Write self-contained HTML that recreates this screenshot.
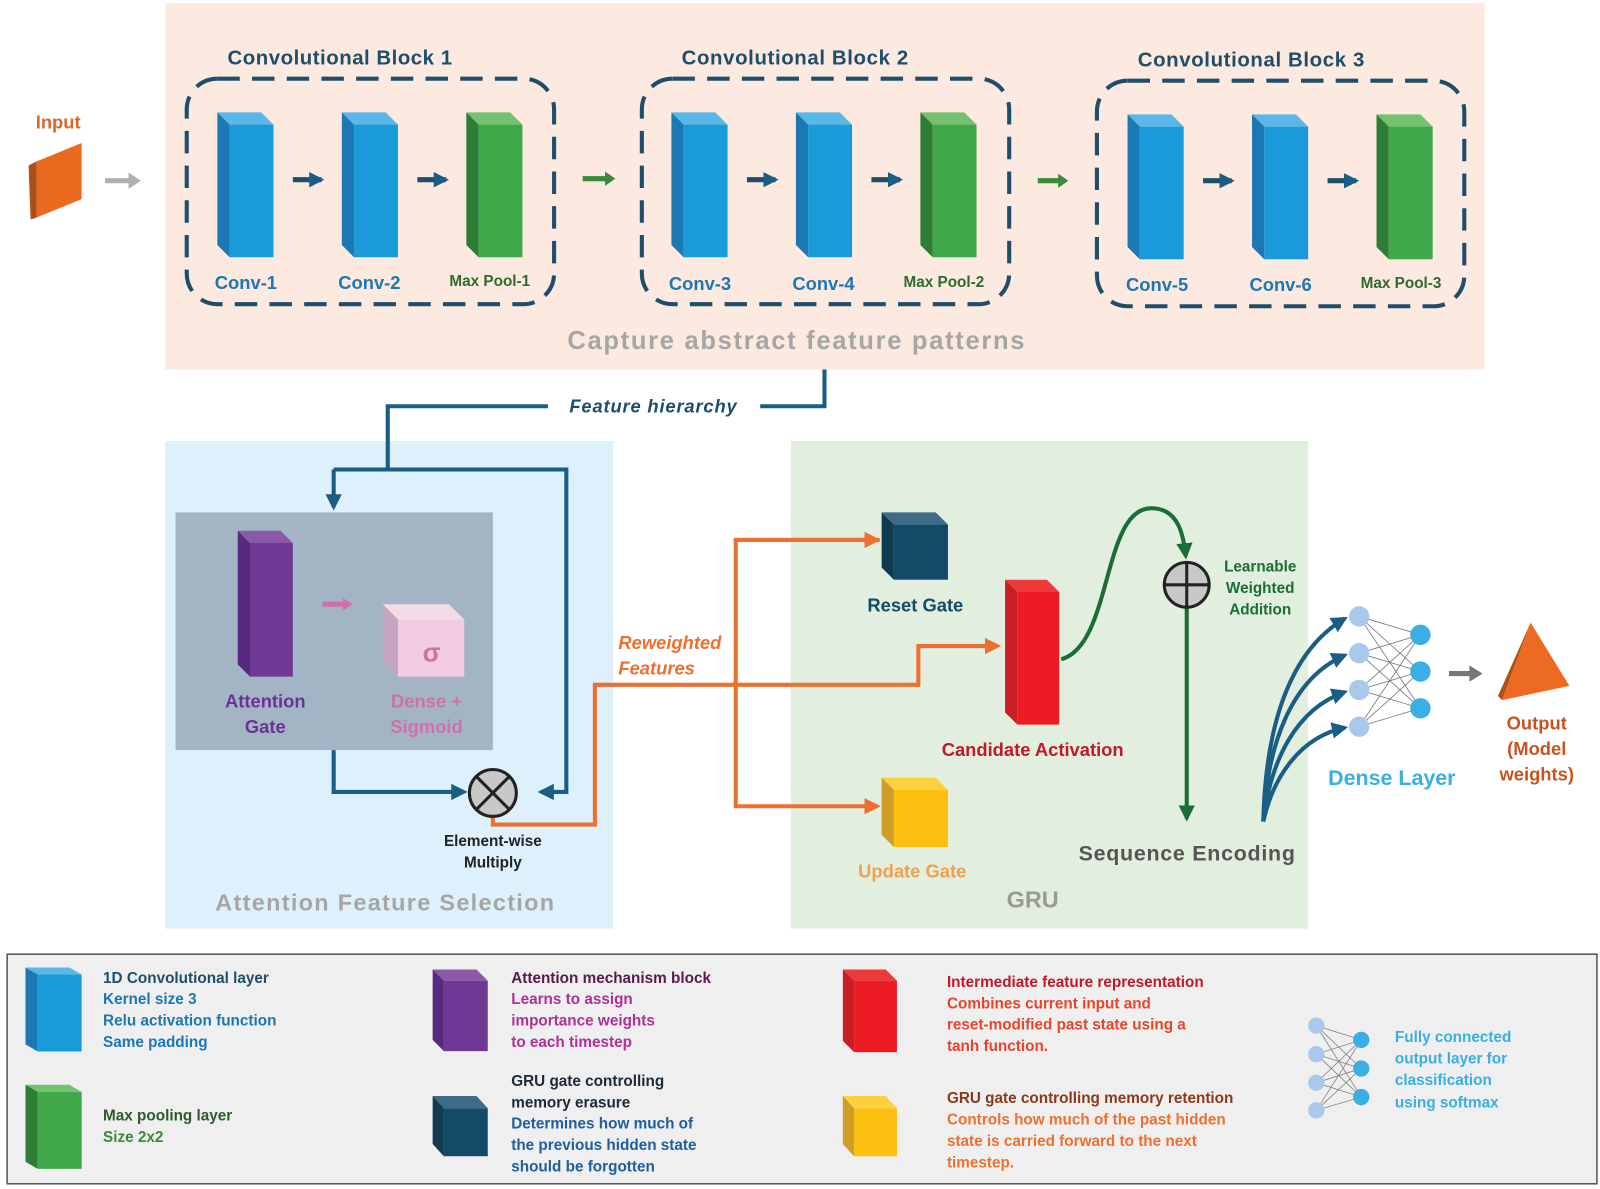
<!DOCTYPE html>
<html><head><meta charset="utf-8"><style>
html,body{margin:0;padding:0;background:#fff;}
svg{display:block;}
text{font-family:"Liberation Sans",sans-serif;font-weight:bold;}
</style></head><body>
<svg width="1600" height="1189" viewBox="0 0 1568 1165" xmlns="http://www.w3.org/2000/svg">
<defs>
<marker id="ab" viewBox="0 0 10 10" refX="8" refY="5" markerWidth="4" markerHeight="4" orient="auto"><path d="M0,0 L10,5 L0,10 z" fill="#1b5e85"/></marker>
<marker id="ao" viewBox="0 0 10 10" refX="8" refY="5" markerWidth="4" markerHeight="4" orient="auto"><path d="M0,0 L10,5 L0,10 z" fill="#ed7031"/></marker>
<marker id="ag" viewBox="0 0 10 10" refX="8" refY="5" markerWidth="4" markerHeight="4" orient="auto"><path d="M0,0 L10,5 L0,10 z" fill="#1a6e35"/></marker>
<marker id="ad" viewBox="0 0 10 10" refX="8" refY="5" markerWidth="3" markerHeight="3" orient="auto"><path d="M0,0 L10,5 L0,10 z" fill="#1b5e85"/></marker>
<g id="bblue"><polygon points="0,0 43,0 55,12 12,12" fill="#5ab8e8"/><polygon points="0,0 12,12 12,142 0,130" fill="#1b78b5"/><rect x="12" y="12" width="43" height="130" fill="#1a9ad8"/></g>
<g id="bgreen"><polygon points="0,0 43,0 55,12 12,12" fill="#74c26f"/><polygon points="0,0 12,12 12,142 0,130" fill="#2e7d36"/><rect x="12" y="12" width="43" height="130" fill="#40a84a"/></g>
</defs>

<!-- top panel -->
<rect x="162" y="3" width="1293" height="359" fill="#fce9df"/>
<text x="333" y="63" font-size="20" fill="#1f4e6b" text-anchor="middle" textLength="220">Convolutional Block 1</text>
<text x="779" y="63" font-size="20" fill="#1f4e6b" text-anchor="middle" textLength="222">Convolutional Block 2</text>
<text x="1226" y="65" font-size="20" fill="#1f4e6b" text-anchor="middle" textLength="222">Convolutional Block 3</text>
<g fill="none" stroke="#1f4e6b" stroke-width="4" stroke-dasharray="22 12">
<rect x="183" y="77" width="360" height="221" rx="30"/>
<rect x="629" y="77" width="360" height="221" rx="30"/>
<rect x="1075" y="79" width="360" height="221" rx="30"/>
</g>
<use href="#bblue" x="213" y="110"/><use href="#bblue" x="335" y="110"/><use href="#bgreen" x="457" y="110"/>
<use href="#bblue" x="658" y="110"/><use href="#bblue" x="780" y="110"/><use href="#bgreen" x="902" y="110"/>
<use href="#bblue" x="1105" y="112"/><use href="#bblue" x="1227" y="112"/><use href="#bgreen" x="1349" y="112"/>
<g font-size="18" fill="#1b78b5" text-anchor="middle">
<text x="241" y="283">Conv-1</text><text x="362" y="283">Conv-2</text>
<text x="686" y="284">Conv-3</text><text x="807" y="284">Conv-4</text>
<text x="1134" y="285">Conv-5</text><text x="1255" y="285">Conv-6</text>
</g>
<g font-size="15" fill="#2e6b2e" text-anchor="middle">
<text x="480" y="280">Max Pool-1</text><text x="925" y="281">Max Pool-2</text><text x="1373" y="282">Max Pool-3</text>
</g>
<g stroke="#1f4e6b" stroke-width="5" marker-end="url(#ad)">
<line x1="287" y1="176" x2="315" y2="176"/><line x1="409" y1="176" x2="437" y2="176"/>
<line x1="732" y1="176" x2="760" y2="176"/><line x1="854" y1="176" x2="882" y2="176"/>
<line x1="1179" y1="177" x2="1207" y2="177"/><line x1="1301" y1="177" x2="1329" y2="177"/>
</g>
<line x1="571" y1="175" x2="599" y2="175" stroke="#3a8a3a" stroke-width="5"/><polygon points="593,168 603,175 593,182" fill="#3a8a3a"/>
<line x1="1017" y1="177" x2="1043" y2="177" stroke="#3a8a3a" stroke-width="5"/><polygon points="1037,170 1047,177 1037,184" fill="#3a8a3a"/>
<text x="780" y="342" font-size="25" fill="#a6a6a6" text-anchor="middle" textLength="448">Capture abstract feature patterns</text>

<!-- input -->
<text x="57" y="126" font-size="18" fill="#d9662a" text-anchor="middle">Input</text>
<polygon points="36,158 80,140 80,195 36,213" fill="#ea6a20"/>
<polygon points="28,162 36,158 36,213 30,215" fill="#b04e15"/>
<line x1="103" y1="177" x2="130" y2="177" stroke="#b0b0b0" stroke-width="5"/><polygon points="126,169 138,177 126,185" fill="#b0b0b0"/>

<!-- panels -->
<rect x="162" y="432" width="439" height="478" fill="#ddf0fb"/>
<rect x="775" y="432" width="507" height="478" fill="#e2efdf"/>
<rect x="172" y="502" width="311" height="233" fill="#a3b4c4"/>

<!-- feature hierarchy connector -->
<polyline points="808,362 808,398 745,398" fill="none" stroke="#1b5e85" stroke-width="4"/>
<polyline points="537,398 380,398 380,460" fill="none" stroke="#1b5e85" stroke-width="4"/>
<text x="640" y="404" font-size="18" fill="#1b4e6e" font-style="italic" text-anchor="middle" textLength="164">Feature hierarchy</text>

<polyline points="327,460 555,460 555,776 530,776" fill="none" stroke="#1b5e85" stroke-width="4" marker-end="url(#ab)"/>
<polyline points="327,460 327,497" fill="none" stroke="#1b5e85" stroke-width="4" marker-end="url(#ab)"/>
<polygon points="233,520 275,520 287,532 245,532" fill="#8a5aa8"/><polygon points="233,520 245,532 245,663 233,651" fill="#562a7e"/><rect x="245" y="532" width="42" height="131" fill="#6f3895"/>
<polygon points="375,592 440,592 455,607 390,607" fill="#f5dbe8"/><polygon points="375,592 390,607 390,663 375,648" fill="#c5a5bf"/><rect x="390" y="607" width="65" height="56" fill="#f2cce2"/>
<text x="423" y="648" font-size="26" fill="#cf70aa" text-anchor="middle" font-weight="normal">σ</text>
<line x1="316" y1="592" x2="338" y2="592" stroke="#d070a8" stroke-width="5"/><polygon points="336,586 346,592 336,598" fill="#d070a8"/>
<text x="260" y="693" font-size="18" fill="#6a3295" text-anchor="middle">Attention</text>
<text x="260" y="718" font-size="18" fill="#6a3295" text-anchor="middle">Gate</text>
<text x="418" y="693" font-size="18" fill="#d070a8" text-anchor="middle">Dense +</text>
<text x="418" y="718" font-size="18" fill="#d070a8" text-anchor="middle">Sigmoid</text>
<polyline points="327,735 327,776 455,776" fill="none" stroke="#1b5e85" stroke-width="4" marker-end="url(#ab)"/>
<polyline points="483,798 483,808 583,808 583,671 900,671 900,633 978,633" fill="none" stroke="#ed7031" stroke-width="4" marker-end="url(#ao)"/>
<circle cx="483" cy="777" r="23" fill="#c8c8c8" stroke="#222" stroke-width="3"/>
<line x1="467" y1="761" x2="499" y2="793" stroke="#222" stroke-width="3"/><line x1="499" y1="761" x2="467" y2="793" stroke="#222" stroke-width="3"/>
<text x="483" y="829" font-size="15" fill="#222" text-anchor="middle">Element-wise</text>
<text x="483" y="850" font-size="15" fill="#222" text-anchor="middle">Multiply</text>
<text x="377" y="892" font-size="23" fill="#a6a6a6" text-anchor="middle" textLength="332">Attention Feature Selection</text>

<!-- GRU -->
<polyline points="862,529 721,529 721,790 860,790" fill="none" stroke="#ed7031" stroke-width="4" marker-end="url(#ao)"/>
<line x1="721" y1="529" x2="860" y2="529" stroke="#ed7031" stroke-width="4" marker-end="url(#ao)"/>
<text x="606" y="636" font-size="18" fill="#ed7031" font-style="italic">Reweighted</text>
<text x="606" y="661" font-size="18" fill="#ed7031" font-style="italic">Features</text>
<polygon points="864,502 917,502 929,514 876,514" fill="#3e6b85"/><polygon points="864,502 876,514 876,568 864,556" fill="#0f3a50"/><rect x="876" y="514" width="53" height="54" fill="#154a66"/>
<text x="897" y="599" font-size="18" fill="#154a66" text-anchor="middle">Reset Gate</text>
<polygon points="985,568 1026,568 1038,580 997,580" fill="#ee3a3a"/><polygon points="985,568 997,580 997,710 985,698" fill="#c81e24"/><rect x="997" y="580" width="41" height="130" fill="#ed1c24"/>
<text x="1012" y="741" font-size="18" fill="#c0192a" text-anchor="middle">Candidate Activation</text>
<polygon points="864,762 917,762 929,774 876,774" fill="#fdd040"/><polygon points="864,762 876,774 876,830 864,818" fill="#cf9d25"/><rect x="876" y="774" width="53" height="56" fill="#fcc010"/>
<text x="894" y="860" font-size="18" fill="#f0a050" text-anchor="middle">Update Gate</text>
<path d="M1040,646 C1090,632 1080,500 1127,498 C1155,497 1160,525 1162,545" fill="none" stroke="#1a6e35" stroke-width="4" marker-end="url(#ag)"/>
<line x1="1163" y1="596" x2="1163" y2="802" stroke="#1a6e35" stroke-width="4" marker-end="url(#ag)"/>
<circle cx="1163" cy="573" r="22" fill="#c8c8c8" stroke="#222" stroke-width="3"/>
<line x1="1141" y1="573" x2="1185" y2="573" stroke="#222" stroke-width="3"/><line x1="1163" y1="551" x2="1163" y2="595" stroke="#222" stroke-width="3"/>
<g font-size="15" fill="#1a6e35" text-anchor="middle"><text x="1235" y="560">Learnable</text><text x="1235" y="581">Weighted</text><text x="1235" y="602">Addition</text></g>
<text x="1163" y="843" font-size="21" fill="#555" text-anchor="middle" textLength="212">Sequence Encoding</text>
<text x="1012" y="889" font-size="23" fill="#999" text-anchor="middle">GRU</text>

<!-- dense -->
<g fill="none" stroke="#1b5e85" stroke-width="4" marker-end="url(#ab)">
<path d="M1238,805 C1240,720 1260,640 1318,606"/>
<path d="M1238,805 C1242,730 1265,665 1318,642"/>
<path d="M1238,805 C1245,745 1270,695 1318,678"/>
<path d="M1238,805 C1248,760 1275,722 1318,713"/>
</g>
<g stroke="#777" stroke-width="0.8">
<line x1="1332" y1="604" x2="1392" y2="622"/><line x1="1332" y1="604" x2="1392" y2="658"/><line x1="1332" y1="604" x2="1392" y2="694"/>
<line x1="1332" y1="640" x2="1392" y2="622"/><line x1="1332" y1="640" x2="1392" y2="658"/><line x1="1332" y1="640" x2="1392" y2="694"/>
<line x1="1332" y1="676" x2="1392" y2="622"/><line x1="1332" y1="676" x2="1392" y2="658"/><line x1="1332" y1="676" x2="1392" y2="694"/>
<line x1="1332" y1="712" x2="1392" y2="622"/><line x1="1332" y1="712" x2="1392" y2="658"/><line x1="1332" y1="712" x2="1392" y2="694"/>
</g>
<g fill="#a9c9ec"><circle cx="1332" cy="604" r="10"/><circle cx="1332" cy="640" r="10"/><circle cx="1332" cy="676" r="10"/><circle cx="1332" cy="712" r="10"/></g>
<g fill="#3aafe3"><circle cx="1392" cy="622" r="10"/><circle cx="1392" cy="658" r="10"/><circle cx="1392" cy="694" r="10"/></g>
<text x="1364" y="769" font-size="21" fill="#3aafe3" text-anchor="middle">Dense Layer</text>
<line x1="1420" y1="660" x2="1444" y2="660" stroke="#777" stroke-width="5"/><polygon points="1440,652 1453,660 1440,668" fill="#777"/>
<polygon points="1500,610 1538,672 1472,686" fill="#ec6a22"/><polygon points="1500,610 1472,686 1468,682" fill="#b44e14"/>
<g font-size="18" fill="#c8531e" text-anchor="middle"><text x="1506" y="715">Output</text><text x="1506" y="740">(Model</text><text x="1506" y="765">weights)</text></g>

<!-- legend -->
<rect x="7" y="935" width="1558" height="225" fill="#efefef" stroke="#555" stroke-width="1.5"/>
<g transform="translate(25,948) scale(1,0.58)"><use href="#bblue"/></g>
<g transform="translate(25,1063) scale(1,0.58)"><use href="#bgreen"/></g>
<polygon points="424,950 467,950 478,961 435,961" fill="#8a5aa8"/><polygon points="424,950 435,961 435,1030 424,1019" fill="#562a7e"/><rect x="435" y="961" width="43" height="69" fill="#6f3895"/>
<polygon points="424,1074 467,1074 478,1086 435,1086" fill="#3e6b85"/><polygon points="424,1074 435,1086 435,1133 424,1121" fill="#0f3a50"/><rect x="435" y="1086" width="43" height="47" fill="#154a66"/>
<polygon points="826,950 868,950 879,961 837,961" fill="#ee3a3a"/><polygon points="826,950 837,961 837,1031 826,1020" fill="#c81e24"/><rect x="837" y="961" width="42" height="70" fill="#ed1c24"/>
<polygon points="826,1074 868,1074 879,1086 837,1086" fill="#fdd040"/><polygon points="826,1074 837,1086 837,1133 826,1121" fill="#cf9d25"/><rect x="837" y="1086" width="42" height="47" fill="#fcc010"/>
<g font-size="15">
<text x="101" y="963" fill="#1f4e6b">1D Convolutional layer</text>
<text x="101" y="984" fill="#1b78b5">Kernel size 3</text>
<text x="101" y="1005" fill="#1b78b5">Relu activation function</text>
<text x="101" y="1026" fill="#1b78b5">Same padding</text>
<text x="101" y="1098" fill="#2e5a2e">Max pooling layer</text>
<text x="101" y="1119" fill="#3a8a3a">Size 2x2</text>
<text x="501" y="963" fill="#5a1a4e">Attention mechanism block</text>
<text x="501" y="984" fill="#b0309a">Learns to assign</text>
<text x="501" y="1005" fill="#b0309a">importance weights</text>
<text x="501" y="1026" fill="#b0309a">to each timestep</text>
<text x="501" y="1064" fill="#1a2a3a">GRU gate controlling</text>
<text x="501" y="1085" fill="#1a2a3a">memory erasure</text>
<text x="501" y="1106" fill="#1f5fa0">Determines how much of</text>
<text x="501" y="1127" fill="#1f5fa0">the previous hidden state</text>
<text x="501" y="1148" fill="#1f5fa0">should be forgotten</text>
<text x="928" y="967" fill="#c0192a">Intermediate feature representation</text>
<text x="928" y="988" fill="#e8452a">Combines current input and</text>
<text x="928" y="1009" fill="#e8452a">reset-modified past state using a</text>
<text x="928" y="1030" fill="#e8452a">tanh function.</text>
<text x="928" y="1081" fill="#8a3a1a">GRU gate controlling memory retention</text>
<text x="928" y="1102" fill="#ed7031">Controls how much of the past hidden</text>
<text x="928" y="1123" fill="#ed7031">state is carried forward to the next</text>
<text x="928" y="1144" fill="#ed7031">timestep.</text>
<text x="1367" y="1021" fill="#3aafe3">Fully connected</text>
<text x="1367" y="1042" fill="#3aafe3">output  layer for</text>
<text x="1367" y="1063" fill="#3aafe3">classification</text>
<text x="1367" y="1085" fill="#3aafe3">using softmax</text>
</g>
<g stroke="#777" stroke-width="0.7">
<line x1="1290" y1="1005" x2="1334" y2="1019"/><line x1="1290" y1="1005" x2="1334" y2="1047"/><line x1="1290" y1="1005" x2="1334" y2="1075"/>
<line x1="1290" y1="1033" x2="1334" y2="1019"/><line x1="1290" y1="1033" x2="1334" y2="1047"/><line x1="1290" y1="1033" x2="1334" y2="1075"/>
<line x1="1290" y1="1061" x2="1334" y2="1019"/><line x1="1290" y1="1061" x2="1334" y2="1047"/><line x1="1290" y1="1061" x2="1334" y2="1075"/>
<line x1="1290" y1="1088" x2="1334" y2="1019"/><line x1="1290" y1="1088" x2="1334" y2="1047"/><line x1="1290" y1="1088" x2="1334" y2="1075"/>
</g>
<g fill="#a9c9ec"><circle cx="1290" cy="1005" r="8"/><circle cx="1290" cy="1033" r="8"/><circle cx="1290" cy="1061" r="8"/><circle cx="1290" cy="1088" r="8"/></g>
<g fill="#3aafe3"><circle cx="1334" cy="1019" r="8"/><circle cx="1334" cy="1047" r="8"/><circle cx="1334" cy="1075" r="8"/></g>
</svg>
</body></html>
